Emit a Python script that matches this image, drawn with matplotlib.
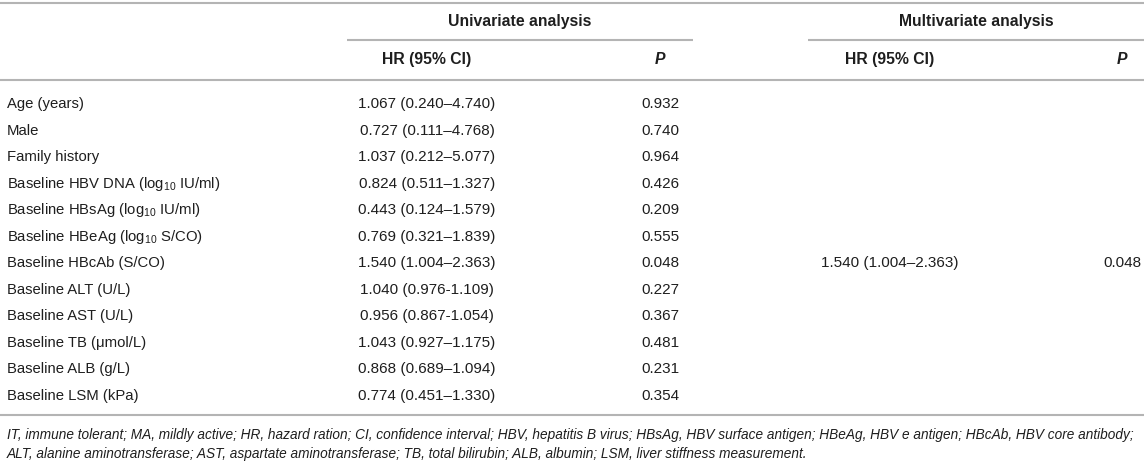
import matplotlib
matplotlib.use("Agg")
import matplotlib.pyplot as plt
import numpy as np

plt.rcParams['font.family'] = ['Liberation Sans', 'DejaVu Sans']
plt.rcParams['mathtext.fontset'] = 'custom'
plt.rcParams['mathtext.rm'] = 'Liberation Sans'
plt.rcParams['mathtext.it'] = 'Liberation Sans:italic'
plt.rcParams['mathtext.bf'] = 'Liberation Sans:bold'

# ---- data ----
variables = [
    "Age (years)",
    "Male",
    "Family history",
    r"Baseline HBV DNA (log$_{10}$ IU/ml)",
    r"Baseline HBsAg (log$_{10}$ IU/ml)",
    r"Baseline HBeAg (log$_{10}$ S/CO)",
    "Baseline HBcAb (S/CO)",
    "Baseline ALT (U/L)",
    "Baseline AST (U/L)",
    "Baseline TB (\u03bcmol/L)",
    "Baseline ALB (g/L)",
    "Baseline LSM (kPa)",
]
uni_hr = [
    "1.067 (0.240\u20134.740)",
    "0.727 (0.111\u20134.768)",
    "1.037 (0.212\u20135.077)",
    "0.824 (0.511\u20131.327)",
    "0.443 (0.124\u20131.579)",
    "0.769 (0.321\u20131.839)",
    "1.540 (1.004\u20132.363)",
    "1.040 (0.976-1.109)",
    "0.956 (0.867-1.054)",
    "1.043 (0.927\u20131.175)",
    "0.868 (0.689\u20131.094)",
    "0.774 (0.451\u20131.330)",
]
uni_p = ["0.932", "0.740", "0.964", "0.426", "0.209", "0.555",
         "0.048", "0.227", "0.367", "0.481", "0.231", "0.354"]
multi_hr = ["", "", "", "", "", "", "1.540 (1.004\u20132.363)", "", "", "", "", ""]
multi_p = ["", "", "", "", "", "", "0.048", "", "", "", "", ""]

group_labels = ["Univariate analysis", "Multivariate analysis"]
col_headers = ["HR (95% CI)", "P", "HR (95% CI)", "P"]
footnote = [
    "IT, immune tolerant; MA, mildly active; HR, hazard ration; CI, confidence interval; "
    "HBV, hepatitis B virus; HBsAg, HBV surface antigen; HBeAg, HBV e antigen; HBcAb, HBV core antibody;",
    "ALT, alanine aminotransferase; AST, aspartate aminotransferase; TB, total bilirubin; "
    "ALB, albumin; LSM, liver stiffness measurement.",
]

# ---- layout ----
W, H = 1144, 463
fig = plt.figure(figsize=(W / 100, H / 100), dpi=100)
ax = fig.add_axes([0, 0, 1, 1])
ax.set_xlim(0, W)
ax.set_ylim(H, 0)
ax.axis('off')

TXT = '#1e1e1e'
LINE = '#b4b4b4'
FS_LABEL = 10.7
FS_VAL = 11
FS_HEAD = 11.3
FS_FOOT = 9.85
lw = 1.5

label_x = 7
col_x = [427, 660, 890, 1122]
group_x = [520, 976]
group_span = [(347, 693), (808, W)]

row0 = 104
pitch = 26.5
base_off = 4.3

# rules
ax.hlines([3, 80, 415], 0, W, color=LINE, lw=lw)
for (a, b) in group_span:
    ax.hlines(40, a, b, color=LINE, lw=lw)

# group headers
for gx, g in zip(group_x, group_labels):
    ax.text(gx, 22 + base_off, g, ha='center', va='baseline', fontsize=FS_HEAD,
            fontweight='bold', color=TXT)

# column headers
for cx, h in zip(col_x, col_headers):
    ax.text(cx, 60 + base_off, h, ha='center', va='baseline', fontsize=FS_HEAD,
            fontweight='bold', fontstyle='italic' if h == 'P' else 'normal', color=TXT)

# body
ys = row0 + pitch * np.arange(len(variables))
for y, v, hr, p, mh, mp in zip(ys, variables, uni_hr, uni_p, multi_hr, multi_p):
    yb = y + base_off
    ax.text(label_x, yb, v, ha='left', va='baseline', fontsize=FS_LABEL, color=TXT)
    ax.text(col_x[0], yb, hr, ha='center', va='baseline', fontsize=FS_VAL, color=TXT)
    ax.text(col_x[1], yb, p, ha='center', va='baseline', fontsize=FS_VAL, color=TXT)
    if mh:
        ax.text(col_x[2], yb, mh, ha='center', va='baseline', fontsize=FS_VAL, color=TXT)
    if mp:
        ax.text(col_x[3], yb, mp, ha='center', va='baseline', fontsize=FS_VAL, color=TXT)

# footnote
for i, line in enumerate(footnote):
    ax.text(label_x, 435 + 19 * i + base_off, line, ha='left', va='baseline',
            fontsize=FS_FOOT, fontstyle='italic', color=TXT)

fig.savefig('out.png', dpi=100)
